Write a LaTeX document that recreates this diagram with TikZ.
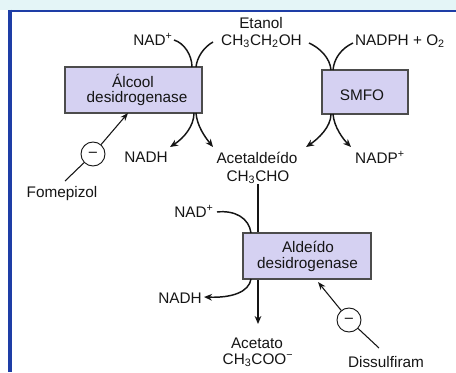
\documentclass[tikz,border=0pt]{standalone}
\usepackage{fontspec}
\setmainfont{Liberation Sans}
\usetikzlibrary{arrows.meta}
\definecolor{boxfill}{HTML}{D5D1F2}
\definecolor{frameblue}{HTML}{1E3DA6}
\definecolor{topband}{HTML}{E4F5F7}
\definecolor{ink}{HTML}{151515}

\begin{document}
\begin{tikzpicture}[x=0.75pt,y=-0.75pt,
  lbl/.style={inner sep=0pt, anchor=base, text=ink, font=\fontsize{11.5}{13}\selectfont},
  enzyme/.style={draw=black!70, fill=boxfill, line width=0.9pt, inner sep=0pt},
  flow/.style={draw=ink, line width=1.1pt, -{Stealth[length=6pt,width=5pt]}},
  feed/.style={draw=ink, line width=1.1pt},
  inhib/.style={draw=ink, circle, minimum size=18pt, line width=0.7pt, inner sep=0pt, fill=white,
                font=\fontsize{11}{12}\selectfont},
  inhline/.style={draw=ink, line width=0.8pt},
  inharrow/.style={draw=ink, line width=0.8pt, -{Stealth[length=6pt,width=4.5pt]}}
]
% page, top band and frame
\useasboundingbox (0,0) rectangle (456,372);
\fill[white] (0,0) rectangle (456,372);
\fill[topband] (0,0) rectangle (456,10);
\draw[frameblue, line width=2.2pt] (456,11) -- (10,11);
\draw[frameblue, line width=3pt] (10,9.5) -- (10,372);

% main ethanol -> acetaldehyde -> acetate axis
\node[lbl] (acald) at (257,163) {Acetaldeído};
\node[lbl] (acho) at (258,181) {CH\textsubscript{3}CHO};
\node[lbl] (acet) at (257,348) {Acetato};
\node[lbl] (acoo) at (258,364) {CH\textsubscript{3}COO\textsuperscript{−}};
\coordinate (axtop) at (258,184);
\coordinate (axend) at (258,324);
\draw[flow] (axtop) -- (axend);

% enzymes
\node[enzyme, minimum width=102.75pt, minimum height=34.5pt] (adh) at (133.5,90) {};
\node[lbl] (adh1) at (133,87) {Álcool};
\node[lbl] (adh2) at (137,102) {desidrogenase};

\node[enzyme, minimum width=64.5pt, minimum height=33pt] (smfo) at (365,92) {};
\node[lbl] (smfot) at (362,100) {SMFO};

\node[enzyme, minimum width=96pt, minimum height=34.5pt] (aldh) at (307,256) {};
\node[lbl] (aldh1) at (308,252) {Aldeído};
\node[lbl] (aldh2) at (307.5,268) {desidrogenase};

% cofactors and substrates
\node[lbl] (nadA) at (153,45) {NAD\textsuperscript{+}};
\node[lbl] (etoh1) at (261,28) {Etanol};
\node[lbl] (etoh2) at (261.5,45) {CH\textsubscript{3}CH\textsubscript{2}OH};
\node[lbl] (nadph) at (400,45) {NADPH + O\textsubscript{2}};
\node[lbl] (nadhA) at (146,162) {NADH};
\node[lbl] (nadp) at (380,163) {NADP\textsuperscript{+}};
\node[lbl] (nadB) at (194,217) {NAD\textsuperscript{+}};
\node[lbl] (nadhB) at (180,303) {NADH};

% alcohol dehydrogenase reaction
\coordinate (nadAo) at (174,40);
\coordinate (etohL) at (213,42);
\coordinate (adhIn1) at (192,67);
\coordinate (adhIn2) at (196,67);
\coordinate (adhOut1) at (194,113);
\coordinate (adhOut2) at (196,113);
\coordinate (nadhAi) at (170,147);
\coordinate (acaldL) at (213,147);
\draw[feed] (nadAo) .. controls (184,43) and (192,55) .. (adhIn1);
\draw[feed] (etohL) .. controls (204,47) and (197,57) .. (adhIn2);
\draw[flow] (adhOut1) .. controls (194,126) and (184,138) .. (nadhAi);
\draw[flow] (adhOut2) .. controls (197,126) and (205,137) .. (acaldL);

% microsomal oxidizing system reaction
\coordinate (etohR) at (309,43);
\coordinate (nadphL) at (353,43);
\coordinate (smfoIn1) at (331,70);
\coordinate (smfoIn2) at (333,70);
\coordinate (smfoOut1) at (331,114);
\coordinate (smfoOut2) at (333,114);
\coordinate (acaldR) at (306,147);
\coordinate (nadpi) at (351,147);
\draw[feed] (etohR) .. controls (320,48) and (330,58) .. (smfoIn1);
\draw[feed] (nadphL) .. controls (342,48) and (334,58) .. (smfoIn2);
\draw[flow] (smfoOut1) .. controls (331,127) and (318,139) .. (acaldR);
\draw[flow] (smfoOut2) .. controls (334,127) and (343,139) .. (nadpi);

% aldehyde dehydrogenase cofactor
\coordinate (nadBo) at (217,212);
\coordinate (aldhIn) at (251,233);
\coordinate (aldhOut) at (251,279);
\coordinate (nadhBi) at (204,297);
\draw[feed] (nadBo) .. controls (235,210) and (249,218) .. (aldhIn);
\draw[flow] (aldhOut) .. controls (249,292) and (232,298) .. (nadhBi);

% inhibitors
\node[lbl] (fome) at (62,197) {Fomepizol};
\node[inhib] (fomeC) at (93,154) {–};
\coordinate (fomeT) at (65,181);
\coordinate (adhHit) at (128,113);
\draw[inhline] (fomeT) -- (fomeC);
\draw[inharrow] (fomeC) -- (adhHit);

\node[lbl] (dis) at (386,367) {Dissulfiram};
\node[inhib] (disC) at (349,320) {–};
\coordinate (disT) at (379,348);
\coordinate (aldhHit) at (318,282);
\draw[inhline] (disT) -- (disC);
\draw[inharrow] (disC) -- (aldhHit);
\end{tikzpicture}
\end{document}
